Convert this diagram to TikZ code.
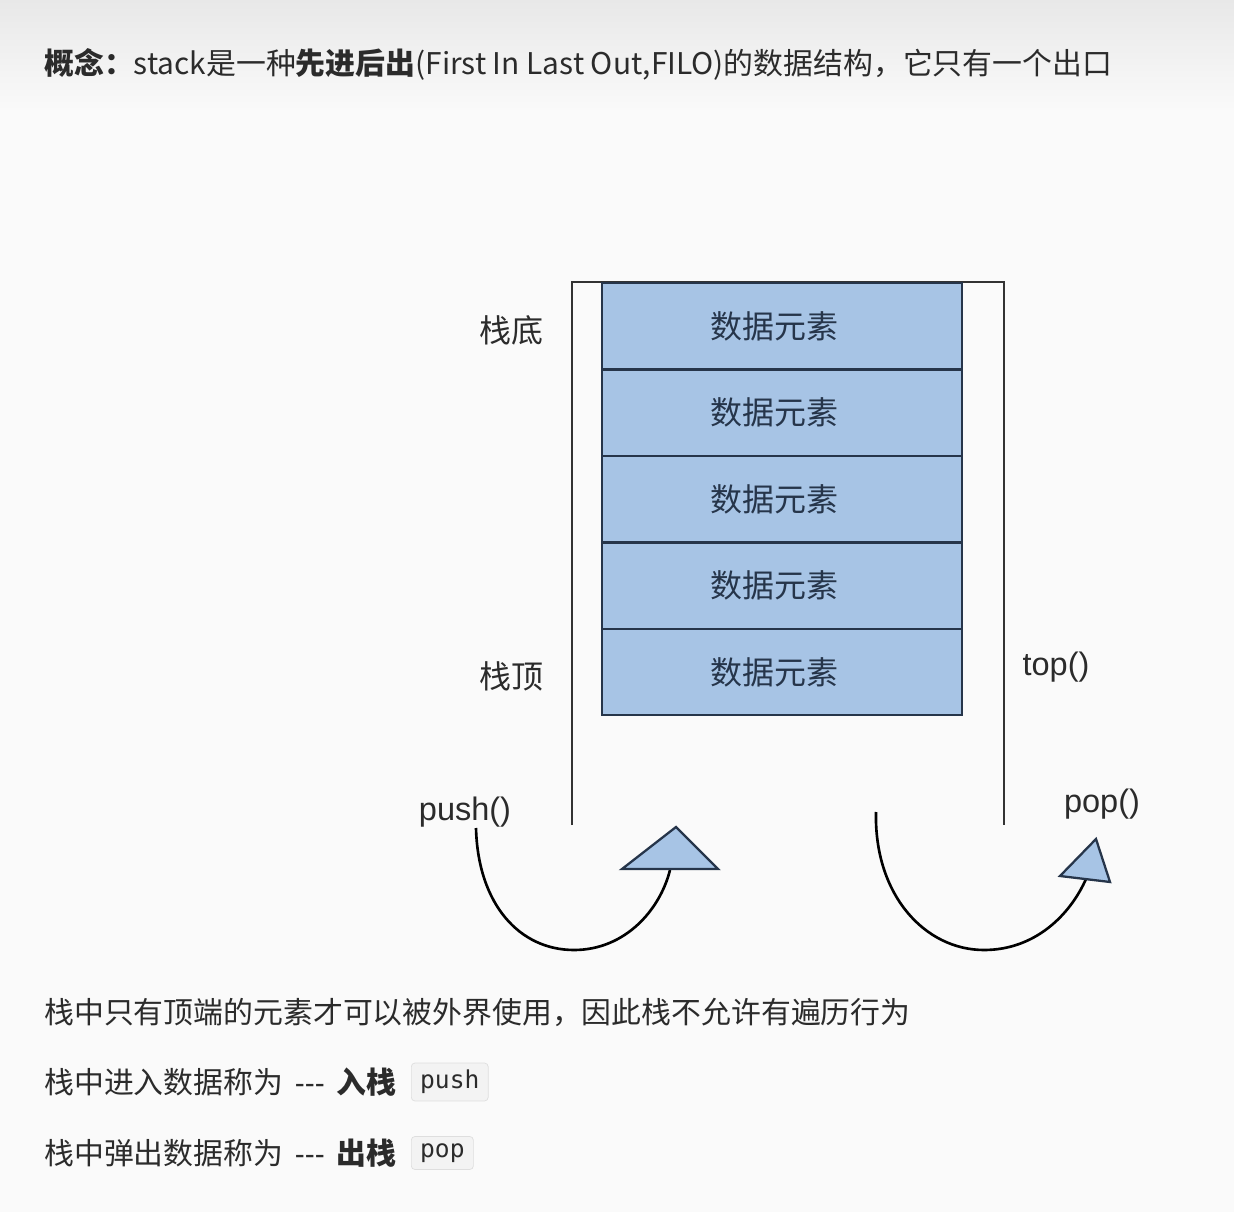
\documentclass[tikz,border=0pt]{standalone}
\usepackage{fontspec}
\setmainfont{Noto Sans CJK SC}
\newfontfamily\latinsans{Liberation Sans}
\newfontfamily\codefont{DejaVu Sans Mono}
\usetikzlibrary{calc}
\definecolor{boxblue}{HTML}{A7C4E5}
\definecolor{boxline}{HTML}{26354A}
\definecolor{wall}{HTML}{333333}
\definecolor{txt}{HTML}{2B2B2B}
\definecolor{codebg}{HTML}{F3F3F3}
\definecolor{codeline}{HTML}{DEDEDE}
\newcommand{\elemtext}{数据元素\hspace*{0.32cm}}
\begin{document}
\begin{tikzpicture}[x=0.02cm,y=-0.02cm,
  elem/.style={draw=boxline, line width=1.4pt, fill=boxblue, minimum width=360*0.02cm, minimum height=86.4*0.02cm, inner sep=0pt, anchor=north west, text=boxline, font=\fontsize{18.2}{20}\selectfont},
  side/.style={text=txt, font=\fontsize{18.2}{20}\selectfont},
  op/.style={text=txt, font=\latinsans\fontsize{18.5}{20}\selectfont},
  para/.style={anchor=west, text=txt, inner sep=0pt, font=\fontsize{17}{20}\selectfont},
  code/.style={draw=codeline, fill=codebg, rounded corners=2pt, inner xsep=5pt, inner ysep=4pt, text=txt, font=\codefont\fontsize{14}{16}\selectfont, anchor=west},
  walls/.style={draw=wall, line width=1.3pt},
  curve/.style={draw=black, line width=1.5pt},
  head/.style={draw=boxline, line width=1.3pt, fill=boxblue, line join=miter}
]
\useasboundingbox (0,0) rectangle (1234,1212);
\fill[white!98!black] (0,0) rectangle (1234,1212);
\shade[top color=black!9, bottom color=white!98!black] (0,0) rectangle (1234,110);

% header
\node[para] (head) at (44,64) {\textbf{概念：}stack是一种\textbf{先进后出}(First In Last Out,FILO)的数据结构，它只有一个出口};

% container
\coordinate (lb) at (572,825);
\coordinate (lt) at (572,282);
\coordinate (rt) at (1004,282);
\coordinate (rb) at (1004,825);
\draw[walls] (lb) -- (lt) -- (rt) -- (rb);

% elements
\node[elem] (e1) at (601,282) {\elemtext};
\node[elem] (e2) at (601,368.4) {\elemtext};
\node[elem] (e3) at (601,454.8) {\elemtext};
\node[elem] (e4) at (601,541.2) {\elemtext};
\node[elem] (e5) at (601,627.6) {\elemtext};

% side labels
\node[side] (bottom) at (511,330) {栈底};
\node[side] (topl) at (511,676) {栈顶};
\node[op] (topf) at (1056,667) {top()};
\node[op] (push) at (465,812) {push()};
\node[op] (pop) at (1102,804) {pop()};

% push arrow
\coordinate (ps) at (476,828);
\coordinate (pe) at (670,870);
\draw[curve] (ps) .. controls (478,905) and (520,950) .. (574,950)
  .. controls (625,950) and (660,910) .. (pe);
\draw[head] (622,869) -- (676,827) -- (718,869) -- cycle;

% pop arrow
\coordinate (os) at (876,812);
\coordinate (oe) at (1086,879);
\draw[curve] (os) .. controls (874,895) and (925,950) .. (984,950)
  .. controls (1035,950) and (1070,915) .. (oe);
\draw[head] (1060,876) -- (1096,839) -- (1110,882) -- cycle;

% bottom text
\node[para] (l1) at (44,1012) {栈中只有顶端的元素才可以被外界使用，因此栈不允许有遍历行为};
\node[para] (l2) at (44,1082) {栈中进入数据称为 \,{\latinsans ---}\, \textbf{入栈}};
\node[code] (c1) at (411,1082) {push};
\node[para] (l3) at (44,1153) {栈中弹出数据称为 \,{\latinsans ---}\, \textbf{出栈}};
\node[code] (c2) at (411,1153) {pop};
\end{tikzpicture}
\end{document}
